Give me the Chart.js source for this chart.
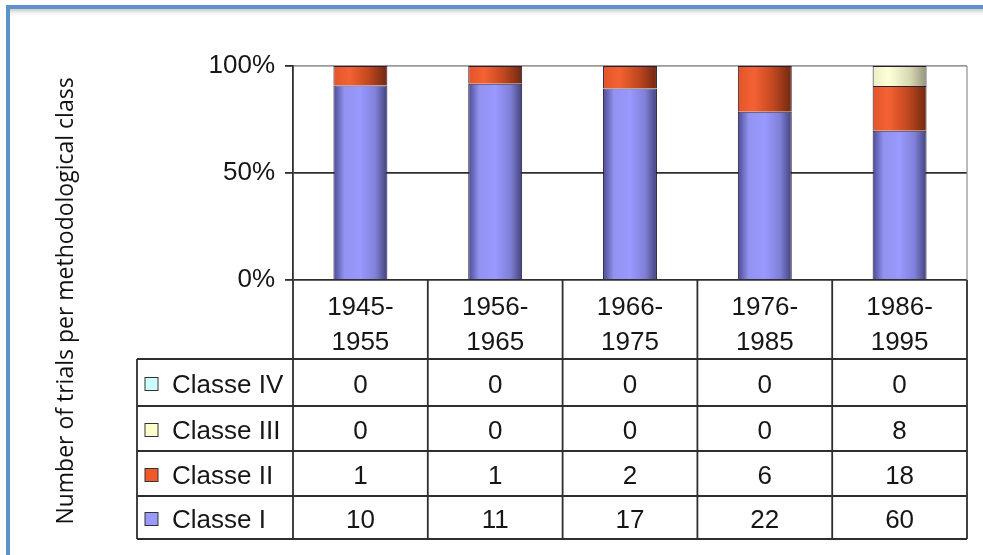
<!DOCTYPE html>
<html>
<head>
<meta charset="utf-8">
<script src="https://cdn.jsdelivr.net/npm/chart.js@4/dist/chart.umd.min.js"></script>
<style>
    body { margin: 0; background: #fff; }
    #frame {
        position: absolute; left: 6px; top: 5px; width: 990px; height: 560px;
        border-top: 4px solid #5b93c9; border-left: 4px solid #5b93c9;
        box-shadow: inset 0 5px 5px -3px rgba(0,0,0,0.25);
    }
    #trials { position: absolute; left: 0; top: 0; }
</style>
</head>
<body>
<div id="frame"></div>
<canvas id="trials" width="983" height="555"></canvas>
<script>
// decades and number of trials per class
const periods = [["1945-", "1955"], ["1956-", "1965"], ["1966-", "1975"], ["1976-", "1985"], ["1986-", "1995"]];
const classNames = ["Classe I", "Classe II", "Classe III", "Classe IV"];
const classI = [10, 11, 17, 22, 60];
const classII = [1, 1, 2, 6, 18];
const classIII = [0, 0, 0, 0, 8];
const classIV = [0, 0, 0, 0, 0];
const yTicks = [0, 50, 100];

const counts = [classI, classII, classIII, classIV];
const totals = periods.map((p, i) => counts.reduce((s, c) => s + c[i], 0));
const share = arr => arr.map((v, i) => v / totals[i] * 100);

const FONT = '"Liberation Sans", Arial, sans-serif';
const BAR_PCT = 0.4;

// horizontal shading per series, dark edges like the old office charts
const shades = [
    [[0, '#4a4a92'], [0.2, '#9292f0'], [0.5, '#9999ff'], [0.78, '#8080d8'], [1, '#42427e']],
    [[0, '#e2552a'], [0.3, '#f46232'], [0.65, '#c24820'], [1, '#702810']],
    [[0, '#eeeec6'], [0.3, '#ffffd8'], [0.7, '#d6d6b0'], [1, '#94947a']],
    [[0, '#b8eaea'], [0.3, '#ccffff'], [1, '#88aaaa']]
];
const keyColors = ['#9999ff', '#f05a28', '#ffffcc', '#ccffff'];
const rowLines = [359, 406, 451, 496, 539];

function barFill(idx) {
    return function (ctx) {
        const chart = ctx.chart;
        const x = chart.scales.x;
        if (!chart.chartArea || !x || ctx.type !== 'data') return keyColors[idx];
        const cw = (x.right - x.left) / periods.length;
        const cx = x.getPixelForValue(ctx.dataIndex);
        const half = cw * BAR_PCT / 2;
        const g = chart.ctx.createLinearGradient(cx - half, 0, cx + half, 0);
        shades[idx].forEach(s => g.addColorStop(s[0], s[1]));
        return g;
    };
}

// data table under the bars + side title
const tablePlugin = {
    id: 'dataTable',
    afterDraw(chart) {
        const ctx = chart.ctx;
        const area = chart.chartArea;
        const x = chart.scales.x;
        const cw = (x.right - x.left) / periods.length;
        const left = 137;
        const bottom = rowLines[rowLines.length - 1];

        ctx.save();
        // right border of the plot
        ctx.strokeStyle = '#8c8c8c';
        ctx.lineWidth = 1.2;
        ctx.beginPath();
        ctx.moveTo(area.right, area.top);
        ctx.lineTo(area.right, area.bottom);
        ctx.stroke();

        ctx.strokeStyle = '#2e2e2e';
        ctx.lineWidth = 1.8;
        ctx.beginPath();
        for (let i = 0; i <= periods.length; i++) {
            const px = x.left + i * cw;
            ctx.moveTo(px, area.bottom);
            ctx.lineTo(px, bottom);
        }
        ctx.moveTo(left, rowLines[0]);
        ctx.lineTo(left, bottom);
        rowLines.forEach(y => {
            ctx.moveTo(left, y);
            ctx.lineTo(x.right, y);
        });
        ctx.stroke();

        // rows top to bottom: IV, III, II, I
        ctx.font = '26px ' + FONT;
        ctx.textBaseline = 'middle';
        for (let r = 0; r < 4; r++) {
            const k = 3 - r;
            const cy = (rowLines[r] + rowLines[r + 1]) / 2 + 3;
            ctx.fillStyle = keyColors[k];
            ctx.fillRect(145, cy - 8, 13, 13);
            ctx.strokeStyle = '#333';
            ctx.lineWidth = 1;
            ctx.strokeRect(145, cy - 8, 13, 13);
            ctx.fillStyle = '#161616';
            ctx.textAlign = 'left';
            ctx.fillText(classNames[k], 172, cy);
            ctx.textAlign = 'center';
            counts[k].forEach((v, i) => {
                ctx.fillText(String(v), x.getPixelForValue(i), cy);
            });
        }

        ctx.translate(66, 301);
        ctx.rotate(-Math.PI / 2);
        ctx.font = '23px "Open Sans", sans-serif';
        ctx.fillStyle = '#111';
        ctx.textAlign = 'center';
        ctx.textBaseline = 'middle';
        ctx.fillText('Number of trials per methodological class', 0, 0);
        ctx.restore();
    }
};

new Chart(document.getElementById('trials'), {
    type: 'bar',
    data: {
        labels: periods,
        datasets: counts.map((c, i) => ({
            label: classNames[i],
            data: share(c),
            backgroundColor: barFill(i),
            borderColor: '#2a1c34',
            borderWidth: 1,
            barPercentage: BAR_PCT,
            categoryPercentage: 1
        }))
    },
    options: {
        responsive: false,
        animation: false,
        layout: { padding: { top: 66, right: 16, left: 0, bottom: 0 } },
        plugins: { legend: { display: false }, tooltip: { enabled: false } },
        scales: {
            x: {
                stacked: true,
                grid: { display: false },
                border: { display: false },
                ticks: { color: '#161616', padding: 2, font: { family: FONT, size: 26, lineHeight: 1.35 } },
                afterFit(scale) { scale.height = 275; }
            },
            y: {
                stacked: true,
                min: 0,
                max: 100,
                afterBuildTicks(scale) { scale.ticks = yTicks.map(v => ({ value: v })); },
                grid: {
                    color: c => (c.tick && c.tick.value === 100 ? '#9a9a9a' : '#2e2e2e'),
                    tickColor: '#2e2e2e',
                    lineWidth: 1.8,
                    tickLength: 8
                },
                border: { color: '#2e2e2e', width: 1.8 },
                ticks: {
                    color: '#161616',
                    padding: 10,
                    font: { family: FONT, size: 26 },
                    callback: v => v + '%'
                },
                afterFit(scale) { scale.width = 293; }
            }
        }
    },
    plugins: [tablePlugin]
});
</script>
</body>
</html>
